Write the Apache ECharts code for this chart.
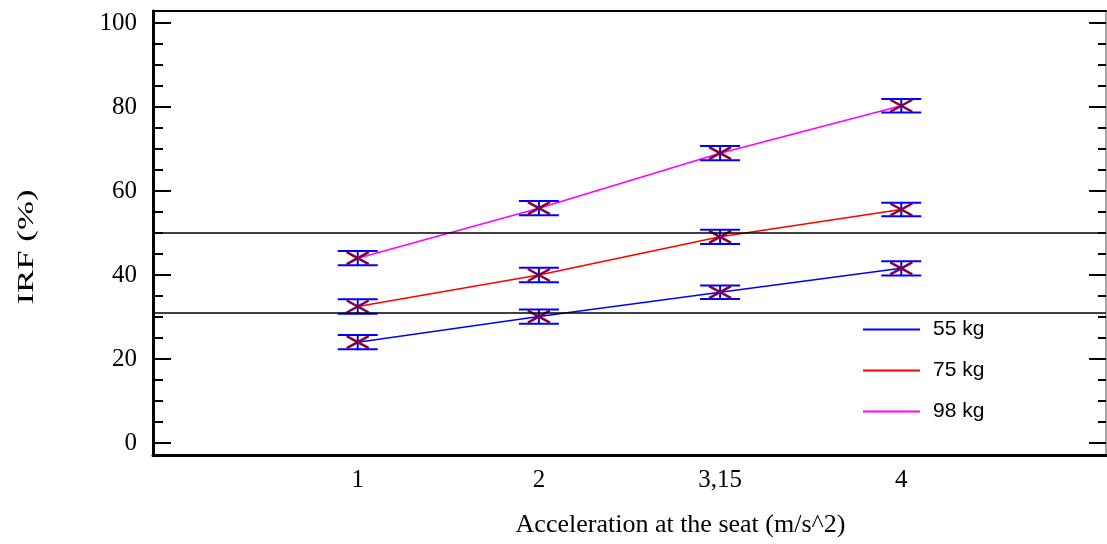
<!DOCTYPE html>
<html>
<head>
<meta charset="utf-8">
<script src="https://cdn.jsdelivr.net/npm/echarts@6/dist/echarts.min.js"></script>
<style>
  html, body { margin: 0; padding: 0; background: #fff; }
  #chart { width: 1107px; height: 544px; }
</style>
</head>
<body>
<div id="chart"></div>
<script>
// x categories (acceleration at the seat)
const categories = ["1", "2", "3,15", "4"];
const seriesNames = ["55 kg", "75 kg", "98 kg"];
const seriesColors = ["#0000ff", "#ff0000", "#ff00ff"];

// IRF (%) means and error half-widths
const irf55 = [24.0, 30.1, 35.9, 41.6];
const irf75 = [32.5, 40.0, 49.1, 55.6];
const irf98 = [44.0, 55.9, 69.0, 80.3];
const err55 = [1.7, 1.7, 1.6, 1.7];
const err75 = [1.7, 1.7, 1.7, 1.6];
const err98 = [1.7, 1.7, 1.7, 1.6];

// horizontal reference lines
const refLines = [50, 31];

// y axis ticks
const yMajor = [0, 20, 40, 60, 80, 100];
const yMinor = [5, 10, 15, 25, 30, 35, 45, 50, 55, 65, 70, 75, 85, 90, 95];

const serif = "'Liberation Serif', 'Times New Roman', serif";
const sans = "'Liberation Sans', Arial, sans-serif";

const chart = echarts.init(document.getElementById("chart"));

const means = [irf55, irf75, irf98];
const errs = [err55, err75, err98];

const yMin = -2.86, yMax = 102.86;

function yAxisBase(pos) {
  return {
    type: "value", position: pos, min: yMin, max: yMax,
    splitLine: { show: false },
    axisLabel: { show: false },
    axisLine: { show: false, onZero: false },
  };
}

const lineSeries = seriesNames.map((name, i) => ({
  name: name,
  type: "line",
  xAxisIndex: 0,
  yAxisIndex: 0,
  symbol: "none",
  z: 3,
  lineStyle: { color: seriesColors[i], width: 1.5 },
  itemStyle: { color: seriesColors[i] },
  data: means[i].map((v, j) => [j, v]),
  markLine: i === 0 ? {
    silent: true,
    symbol: "none",
    label: { show: false },
    lineStyle: { color: "#000", width: 1.5, type: "solid" },
    data: refLines.map(v => ({ yAxis: v })),
  } : undefined,
}));

const errorSeries = seriesNames.map((name, i) => ({
  name: name + " err",
  type: "custom",
  xAxisIndex: 0,
  yAxisIndex: 0,
  z: 4,
  data: means[i].map((v, j) => [j, v, errs[i][j]]),
  renderItem: function (params, api) {
    const x = api.value(0), y = api.value(1), e = api.value(2);
    const c = api.coord([x, y]);
    const top = api.coord([x, y + e])[1];
    const bot = api.coord([x, y - e])[1];
    const barStyle = { stroke: "#0000ff", lineWidth: 2 };
    const mkStyle = { stroke: "#800040", lineWidth: 2.5 };
    return {
      type: "group",
      children: [
        { type: "line", shape: { x1: c[0], y1: top, x2: c[0], y2: bot }, style: barStyle },
        { type: "line", shape: { x1: c[0] - 20, y1: top, x2: c[0] + 20, y2: top }, style: barStyle },
        { type: "line", shape: { x1: c[0] - 20, y1: bot, x2: c[0] + 20, y2: bot }, style: barStyle },
        { type: "line", shape: { x1: c[0] - 11, y1: c[1] - 6, x2: c[0] + 11, y2: c[1] + 6 }, style: mkStyle },
        { type: "line", shape: { x1: c[0] - 11, y1: c[1] + 6, x2: c[0] + 11, y2: c[1] - 6 }, style: mkStyle },
      ],
    };
  },
}));

const option = {
  backgroundColor: "#fff",
  animation: false,
  grid: { left: 153, top: 11, right: 1, bottom: 89, containLabel: false },
  graphic: [
    {
      type: "text",
      x: 27,
      y: 247,
      rotation: Math.PI / 2,
      scaleX: 1.45,
      style: {
        text: "IRF (%)",
        font: "24px " + serif,
        fill: "#000",
        align: "center",
        verticalAlign: "middle",
      },
    },
  ],
  legend: {
    data: seriesNames,
    orient: "vertical",
    left: 858,
    top: 314,
    icon: "rect",
    itemWidth: 57,
    itemHeight: 2,
    itemGap: 20,
    textStyle: { fontFamily: sans, fontSize: 21, color: "#000", padding: [0, 0, 0, 8] },
  },
  xAxis: [
    {
      type: "value",
      position: "bottom",
      min: -1.13,
      max: 4.13,
      splitLine: { show: false },
      axisTick: { show: false },
      axisLine: { onZero: false, lineStyle: { color: "#000", width: 3 } },
      axisLabel: {
        customValues: [0, 1, 2, 3],
        formatter: v => categories[Math.round(v)],
        fontFamily: serif, fontSize: 25, color: "#000", margin: 13,
      },
      name: "Acceleration at the seat (m/s^2)",
      nameLocation: "middle",
      nameGap: 57,
      nameTextStyle: { fontFamily: serif, fontSize: 26, color: "#000", padding: [0, 0, 0, 102] },
    },
    {
      type: "value",
      position: "top",
      min: -1.13,
      max: 4.13,
      splitLine: { show: false },
      axisTick: { show: false },
      axisLabel: { show: false },
      axisLine: { onZero: false, lineStyle: { color: "#000", width: 2 } },
    },
  ],
  yAxis: [
    Object.assign(yAxisBase("left"), {
      axisLine: { show: true, onZero: false, lineStyle: { color: "#000", width: 3 } },
      axisTick: { show: true, inside: true, length: 18, customValues: yMajor, lineStyle: { color: "#000", width: 2 } },
      axisLabel: { show: true, customValues: yMajor, fontFamily: serif, fontSize: 25, color: "#000", margin: 16 },
    }),
    Object.assign(yAxisBase("left"), {
      axisTick: { show: true, inside: true, length: 10, customValues: yMinor, lineStyle: { color: "#000", width: 2 } },
    }),
    Object.assign(yAxisBase("right"), {
      axisLine: { show: true, onZero: false, lineStyle: { color: "#888", width: 1.5 } },
      axisTick: { show: true, inside: true, length: 17, customValues: yMajor, lineStyle: { color: "#000", width: 2 } },
    }),
    Object.assign(yAxisBase("right"), {
      axisTick: { show: true, inside: true, length: 8, customValues: yMinor, lineStyle: { color: "#000", width: 2 } },
    }),
  ],
  series: lineSeries.concat(errorSeries),
};

chart.setOption(option);
</script>
</body>
</html>
